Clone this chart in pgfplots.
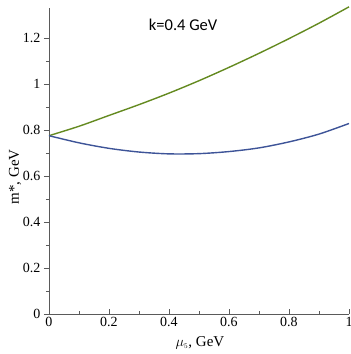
\documentclass[border=0pt]{standalone}
\usepackage{fontspec}
\setmainfont{Liberation Serif}
\newfontfamily\calib{Carlito}
\usepackage{pgfplots}
\pgfplotsset{compat=1.18}
\definecolor{cgreen}{RGB}{100,138,32}
\definecolor{cblue}{RGB}{62,84,152}
\definecolor{caxis}{RGB}{90,90,90}
\begin{document}
\begin{tikzpicture}
\useasboundingbox (-49pt,-40pt) rectangle (302pt,314pt);
\begin{axis}[
  scale only axis, width=300pt, height=306pt,
  xmin=0, xmax=1, ymin=0, ymax=1.33,
  axis lines=left,
  axis line style={caxis, line width=0.8pt, -},
  every tick/.style={caxis, line width=0.6pt},
  xtick={0,0.2,0.4,0.6,0.8,1},
  ytick={0,0.2,0.4,0.6,0.8,1,1.2},
  minor tick num=1,
  xtick align=inside, ytick align=outside,
  major tick length=5pt, minor tick length=3pt,
  xticklabels={0,0.2,0.4,0.6,0.8,1},
  yticklabels={0,0.2,0.4,0.6,0.8,1,1.2},
  tick label style={font=\fontsize{14}{16}\selectfont},
  /pgf/number format/assume math mode=true,
  xlabel={$\mu_{\scriptscriptstyle 5}$, GeV},
  ylabel={m*, GeV},
  label style={font=\fontsize{15}{17}\selectfont},
  xlabel style={at={(axis description cs:0.503,-0.095)}, anchor=center},
  ylabel style={at={(axis description cs:-0.113,0.448)}, anchor=center},
  clip=false,
]
\addplot[cgreen, line width=1.4pt, smooth] coordinates {
(0,0.775) (0.1,0.816) (0.2,0.863) (0.3,0.910) (0.4,0.960) (0.5,1.014)
(0.6,1.072) (0.7,1.133) (0.8,1.197) (0.9,1.264) (1.0,1.335)};
\addplot[cblue, line width=1.4pt, smooth] coordinates {
(0,0.775) (0.1,0.744) (0.2,0.720) (0.3,0.704) (0.4,0.696) (0.5,0.697)
(0.6,0.706) (0.7,0.722) (0.8,0.748) (0.9,0.782) (1.0,0.828)};
\node[font=\calib\fontsize{16.5}{18}\selectfont] at (axis cs:0.447,1.257) {k=0.4 GeV};
\end{axis}
\end{tikzpicture}
\end{document}
